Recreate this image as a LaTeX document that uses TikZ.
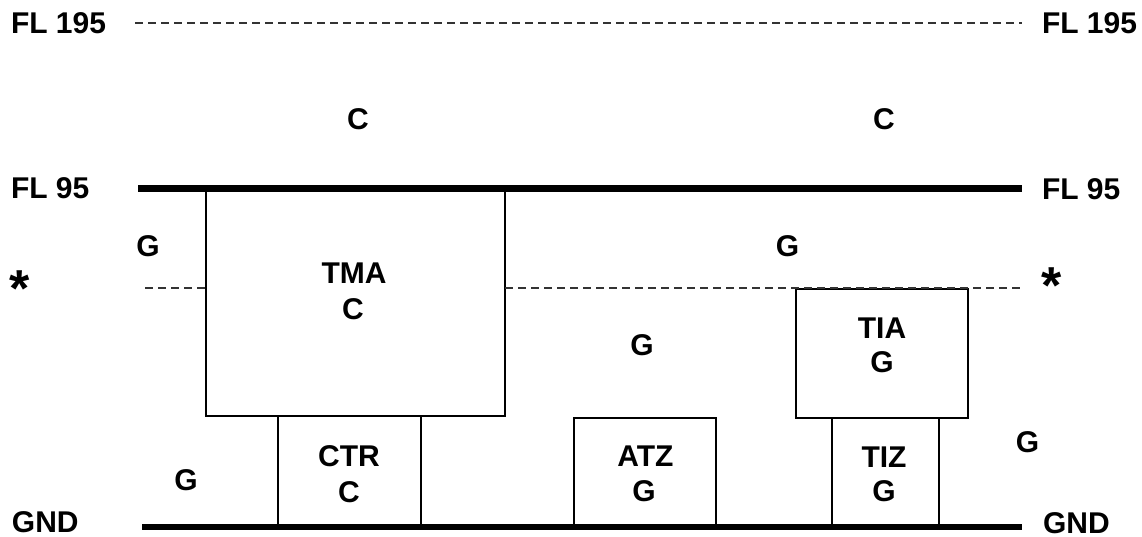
\documentclass[tikz,border=0pt]{standalone}
\usepackage{fontspec}
\setmainfont{Liberation Sans}
\begin{document}
\begin{tikzpicture}[x=1pt,y=-1pt,
  lbl/.style={font=\fontsize{30}{36}\selectfont\bfseries, inner sep=0pt, outer sep=0pt, text height=21.5pt, text depth=0pt},
  side/.style={lbl, anchor=west},
  starlbl/.style={font=\fontsize{52}{52}\selectfont\bfseries, inner sep=0pt, anchor=base},
  zone/.style={draw=black, line width=2.6pt, inner sep=0pt, outer sep=0pt},
  level/.style={line width=7pt},
  gndline/.style={line width=5.5pt},
  guide/.style={draw=black!80, line width=2pt, dash pattern=on 8pt off 5pt}]
\useasboundingbox (0,0) rectangle (1142,537);

% boxes
\node[zone, minimum width=299pt, minimum height=228pt] (tma) at (355.5,302) {};
\node[zone, minimum width=143pt, minimum height=110pt] (ctr) at (349.5,471) {};
\node[zone, minimum width=142pt, minimum height=108pt] (atz) at (645,472) {};
\node[zone, minimum width=172pt, minimum height=129pt] (tia) at (882,353.5) {};
\node[zone, minimum width=107pt, minimum height=108pt] (tiz) at (885.5,472) {};

% level line end points
\coordinate (d1a) at (135,23);   \coordinate (d1b) at (1022,23);
\coordinate (f95a) at (138,189); \coordinate (f95b) at (1022,189);
\coordinate (s1a) at (145,288);  \coordinate (s1b) at (206,288);
\coordinate (s2a) at (505,288);  \coordinate (s2b) at (1020,288);
\coordinate (ga) at (142,527);   \coordinate (gb) at (1022,527);

\draw[guide] (d1a) -- (d1b);
\draw[guide] (s1a) -- (s1b);
\draw[guide] (s2a) -- (s2b);
\draw[level] (f95a) -- (f95b);
\draw[gndline] (ga) -- (gb);

% side labels
\node[side] (fl195l) at (11,22.5) {FL 195};
\node[side] (fl195r) at (1042,22.5) {FL 195};
\node[side] (fl95l) at (11,188) {FL 95};
\node[side] (fl95r) at (1042,189) {FL 95};
\node[side] (gndl) at (12,521.5) {GND};
\node[side] (gndr) at (1043,522.5) {GND};
\node[starlbl] (starl) at (20,306) {*};
\node[starlbl] (starr) at (1052,303) {*};

% airspace class labels
\node[lbl] (cl) at (358,119) {C};
\node[lbl] (cr) at (884,118.5) {C};
\node[lbl] (gl) at (148,246) {G};
\node[lbl] (gm) at (787.5,245.5) {G};
\node[lbl] (gmid) at (642,344.5) {G};
\node[lbl] (glow) at (186,480) {G};
\node[lbl] (gright) at (1027.5,442) {G};

% box texts
\node[lbl] (tmat) at (354,272.5) {TMA};
\node[lbl] (tmac) at (353,309) {C};
\node[lbl] (ctrt) at (349,456) {CTR};
\node[lbl] (ctrc) at (349,492) {C};
\node[lbl] (atzt) at (645.5,456) {ATZ};
\node[lbl] (atzg) at (644,491) {G};
\node[lbl] (tiat) at (882,327.5) {TIA};
\node[lbl] (tiag) at (882,362) {G};
\node[lbl] (tizt) at (884,457) {TIZ};
\node[lbl] (tizg) at (884,491) {G};
\end{tikzpicture}
\end{document}
